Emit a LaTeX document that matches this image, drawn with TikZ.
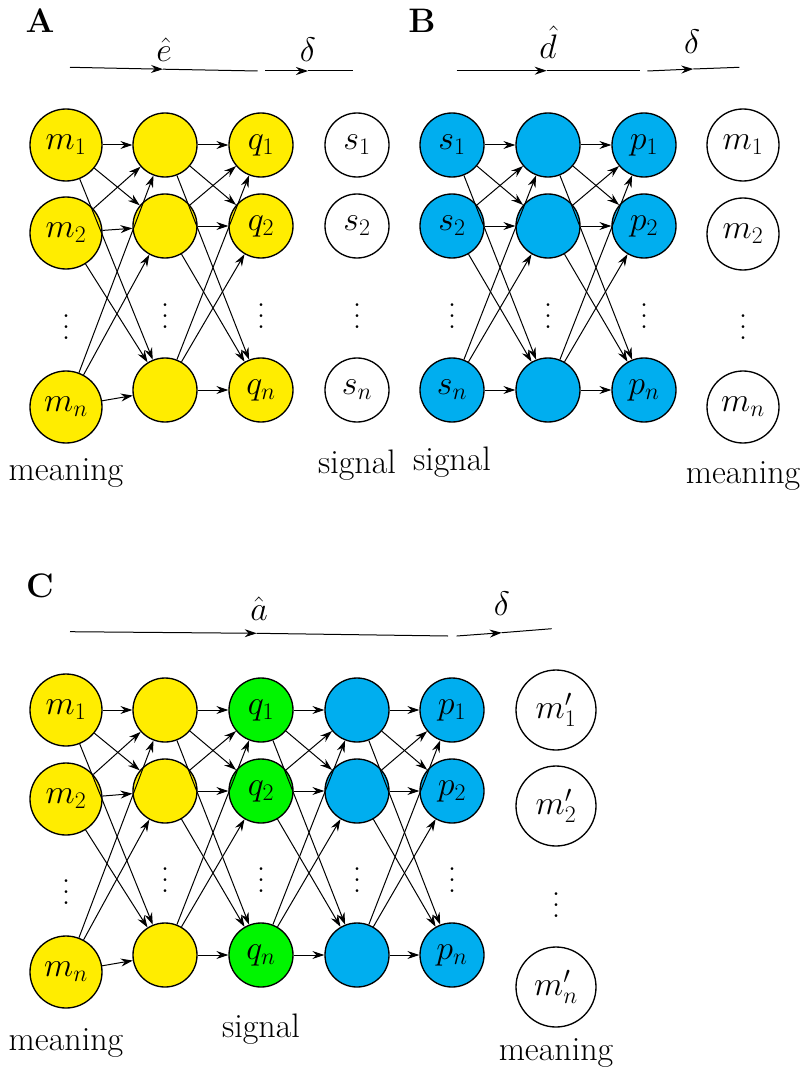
\documentclass[tikz,border=0pt]{standalone}
\usepackage{fix-cm}
\usetikzlibrary{arrows.meta}

\definecolor{unityellow}{RGB}{255,237,0}
\definecolor{unitblue}{RGB}{0,174,239}
\definecolor{unitgreen}{RGB}{0,245,0}

% three dots with wider spacing
\newcommand{\unitdots}{\vbox{\baselineskip=8.3pt\lineskiplimit=0pt\hbox{.}\hbox{.}\hbox{.}}}

\tikzset{every picture/.style={line width=0.75pt}}
\tikzset{
  every node/.style={font=\fontsize{25.5}{30}\selectfont},
  unit/.style={circle,draw,line width=1pt,inner sep=0pt,minimum size=48pt},
  inunit/.style={unit,minimum size=54pt},
  outunit/.style={unit,minimum size=60pt},
  conn/.style={-{Stealth[length=9pt,width=6pt,inset=3pt]}},
}

\begin{document}
\begin{tikzpicture}[x=0.75pt,y=0.75pt,yscale=-1,xscale=1]
\useasboundingbox (0,0) rectangle (802,1070);

%Panel A
\node (tagA) at (40,21) {\textbf{A}};
\coordinate (ae0) at (70,67.3);
\coordinate (ae1) at (163,69.2);
\coordinate (ae2) at (257.7,71);
\draw [conn] (ae0) -- (ae1);
\draw (ae1) -- (ae2);
\node (ehat) at (164,50) {$\hat{e}$};
\coordinate (ad0) at (265,71);
\coordinate (ad1) at (308,71);
\coordinate (ad2) at (352.7,71);
\draw [conn] (ad0) -- (ad1);
\draw (ad1) -- (ad2);
\node (adelta) at (308,50) {$\delta$};

% Nodes
\node [inunit,fill=unityellow] (am1) at (66,145) {$m_1$};
\node [inunit,fill=unityellow] (am2) at (66,233) {$m_2$};
\node [inunit,fill=unityellow] (amn) at (66,407) {$m_n$};
\node [unit,fill=unityellow] (ah1) at (165,145) {};
\node [unit,fill=unityellow] (ah2) at (165,226) {};
\node [unit,fill=unityellow] (ahn) at (165,390) {};
\node [unit,fill=unityellow] (aq1) at (261,145) {$q_1$};
\node [unit,fill=unityellow] (aq2) at (261,226) {$q_2$};
\node [unit,fill=unityellow] (aqn) at (261,390) {$q_n$};
\node [unit] (as1) at (357,145) {$s_1$};
\node [unit] (as2) at (357,226) {$s_2$};
\node [unit] (asn) at (357,390) {$s_n$};
\node (adots1) at (66,327) {\unitdots};
\node (adots2) at (165,316) {\unitdots};
\node (adots3) at (261,316) {\unitdots};
\node (adots4) at (357,316) {\unitdots};
\node (ameaning) at (66,473) {meaning};
\node (asignal) at (357,465) {signal};

\foreach \l/\r in {am/ah,ah/aq}
  \foreach \i in {1,2,n}
    \foreach \j in {1,2,n}
      \draw [conn] (\l\i) -- (\r\j);

%Panel B
\node (tagB) at (422,21) {\textbf{B}};
\coordinate (bd0) at (456.7,70.7);
\coordinate (bd1) at (546.7,70.7);
\coordinate (bd2) at (640,70.7);
\draw [conn] (bd0) -- (bd1);
\draw (bd1) -- (bd2);
\node (dhat) at (548,42) {$\hat{d}$};
\coordinate (bx0) at (647.3,71);
\coordinate (bx1) at (693.3,69);
\coordinate (bx2) at (739.3,67.3);
\draw [conn] (bx0) -- (bx1);
\draw (bx1) -- (bx2);
\node (bdelta) at (692,42) {$\delta$};

% Nodes
\node [unit,fill=unitblue] (bs1) at (452,145) {$s_1$};
\node [unit,fill=unitblue] (bs2) at (452,226) {$s_2$};
\node [unit,fill=unitblue] (bsn) at (452,390) {$s_n$};
\node [unit,fill=unitblue] (bh1) at (548,145) {};
\node [unit,fill=unitblue] (bh2) at (548,226) {};
\node [unit,fill=unitblue] (bhn) at (548,390) {};
\node [unit,fill=unitblue] (bp1) at (644,145) {$p_1$};
\node [unit,fill=unitblue] (bp2) at (644,226) {$p_2$};
\node [unit,fill=unitblue] (bpn) at (644,390) {$p_n$};
\node [inunit] (bm1) at (743,145) {$m_1$};
\node [inunit] (bm2) at (743,234) {$m_2$};
\node [inunit] (bmn) at (743,407) {$m_n$};
\node (bdots1) at (452,316) {\unitdots};
\node (bdots2) at (548,316) {\unitdots};
\node (bdots3) at (644,316) {\unitdots};
\node (bdots4) at (743,327) {\unitdots};
\node (bsignal) at (452,462) {signal};
\node (bmeaning) at (743,476) {meaning};

\foreach \l/\r in {bs/bh,bh/bp}
  \foreach \i in {1,2,n}
    \foreach \j in {1,2,n}
      \draw [conn] (\l\i) -- (\r\j);

%Panel C
\node (tagC) at (40,586) {\textbf{C}};
\coordinate (ca0) at (70,631.7);
\coordinate (ca1) at (256.7,633.3);
\coordinate (ca2) at (448,636);
\draw [conn] (ca0) -- (ca1);
\draw (ca1) -- (ca2);
\node (ahat) at (259,609) {$\hat{a}$};
\coordinate (cx0) at (456.7,636);
\coordinate (cx1) at (501.7,632.7);
\coordinate (cx2) at (551.7,628.7);
\draw [conn] (cx0) -- (cx1);
\draw (cx1) -- (cx2);
\node (cdelta) at (502,604) {$\delta$};

% Nodes
\node [inunit,fill=unityellow] (cm1) at (66,710) {$m_1$};
\node [inunit,fill=unityellow] (cm2) at (66,799) {$m_2$};
\node [inunit,fill=unityellow] (cmn) at (66,972) {$m_n$};
\node [unit,fill=unityellow] (ch1) at (165,710) {};
\node [unit,fill=unityellow] (ch2) at (165,791) {};
\node [unit,fill=unityellow] (chn) at (165,955) {};
\node [unit,fill=unitgreen] (cq1) at (261,710) {$q_1$};
\node [unit,fill=unitgreen] (cq2) at (261,791) {$q_2$};
\node [unit,fill=unitgreen] (cqn) at (261,955) {$q_n$};
\node [unit,fill=unitblue] (cg1) at (357,710) {};
\node [unit,fill=unitblue] (cg2) at (357,791) {};
\node [unit,fill=unitblue] (cgn) at (357,955) {};
\node [unit,fill=unitblue] (cp1) at (452,710) {$p_1$};
\node [unit,fill=unitblue] (cp2) at (452,791) {$p_2$};
\node [unit,fill=unitblue] (cpn) at (452,955) {$p_n$};
\node [outunit] (cw1) at (556,710) {$m'_1$};
\node [outunit] (cw2) at (556,806) {$m'_2$};
\node [outunit] (cwn) at (556,987) {$m'_n$};
\node (cdots1) at (66,892) {\unitdots};
\node (cdots2) at (165,880) {\unitdots};
\node (cdots3) at (261,880) {\unitdots};
\node (cdots4) at (357,880) {\unitdots};
\node (cdots5) at (452,880) {\unitdots};
\node (cdots6) at (556,905) {\unitdots};
\node (cmeaning) at (66,1043) {meaning};
\node (csignal) at (261,1029) {signal};
\node (cmeaning2) at (556,1053) {meaning};

\foreach \l/\r in {cm/ch,ch/cq,cq/cg,cg/cp}
  \foreach \i in {1,2,n}
    \foreach \j in {1,2,n}
      \draw [conn] (\l\i) -- (\r\j);

\end{tikzpicture}
\end{document}
